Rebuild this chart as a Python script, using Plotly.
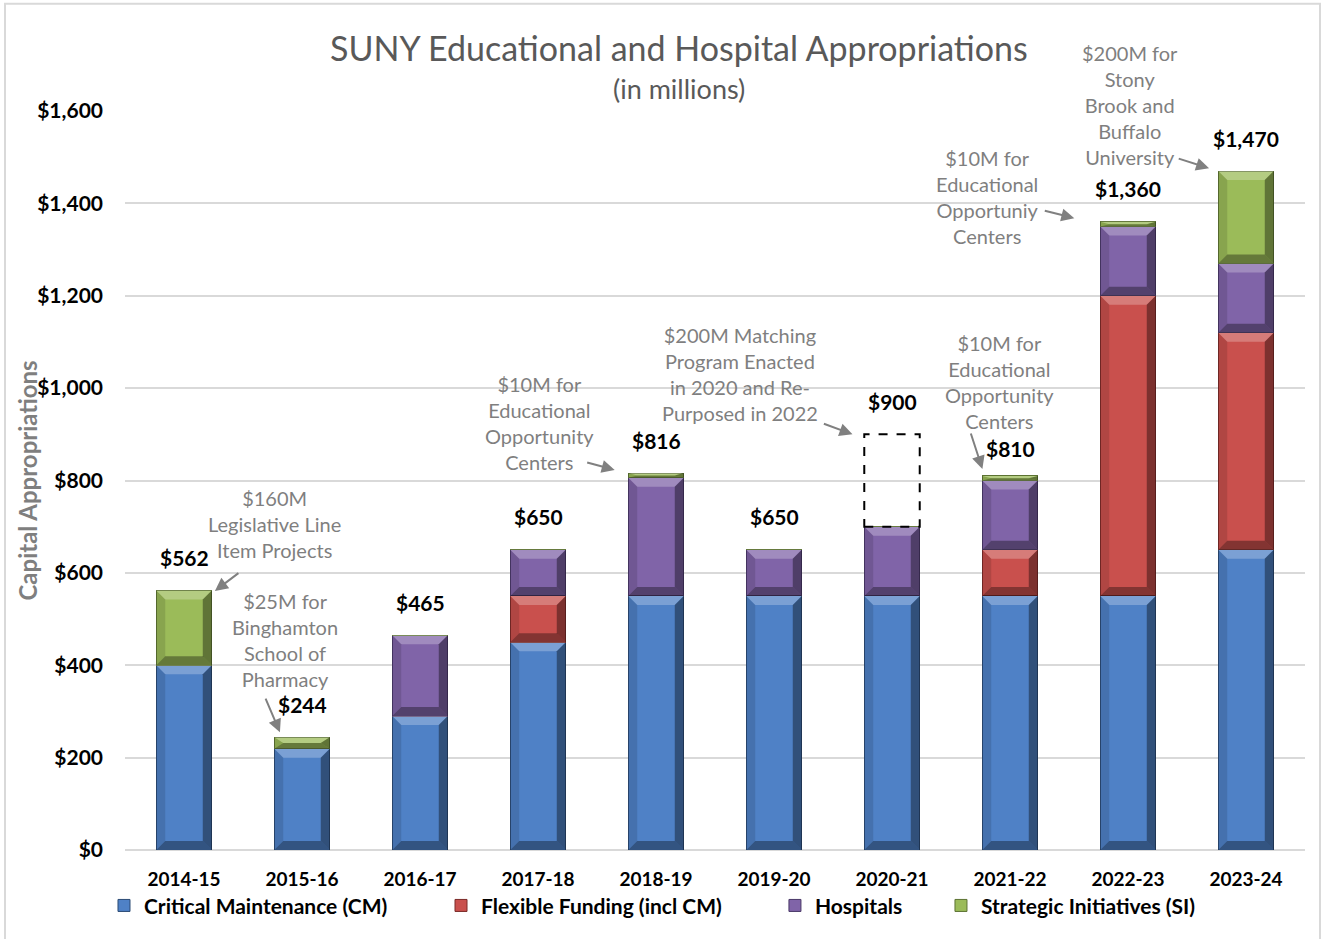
import plotly.graph_objects as go

years = ["2014-15", "2015-16", "2016-17", "2017-18", "2018-19",
         "2019-20", "2020-21", "2021-22", "2022-23", "2023-24"]
critical_maintenance = [400, 219, 290, 450, 550, 550, 550, 550, 550, 650]
flexible_funding = [0, 0, 0, 100, 0, 0, 0, 100, 650, 470]
hospitals = [0, 0, 175, 100, 256, 100, 150, 150, 150, 150]
strategic_initiatives = [162, 25, 0, 0, 10, 0, 0, 10, 10, 200]
matching_program = [0, 0, 0, 0, 0, 0, 200, 0, 0, 0]
total_labels = ["$562", "$244", "$465", "$650", "$816",
                "$650", "$900", "$810", "$1,360", "$1,470"]
label_shift = [33, 33, 33, 33, 33, 33, 33, 27, 33, 33]

series = [
    ("Critical Maintenance (CM)", critical_maintenance, "#4F81C6", "#2B4A74", "legend"),
    ("Flexible Funding (incl CM)", flexible_funding, "#C9504D", "#7A2A28", "legend2"),
    ("Hospitals", hospitals, "#8064A8", "#4A3868", "legend3"),
    ("Strategic Initiatives (SI)", strategic_initiatives, "#9BBB59", "#5C7232", "legend4"),
]

idx = list(range(len(years)))
BAR_W = 0.47
fig = go.Figure()
for name, vals, col, edge, leg in series:
    fig.add_trace(go.Bar(
        x=idx, y=vals, name=name, width=BAR_W, legend=leg,
        marker=dict(color=col, line=dict(color=edge, width=1)),
    ))

shapes = []
# bevel effect on each stacked segment
BX = 0.076   # bevel width in x units
BY = 19.5    # bevel height in y units
base = [0] * len(years)
for name, vals, col, edge, leg in series:
    for i, v in enumerate(vals):
        if v <= 0:
            continue
        x0, x1 = i - BAR_W / 2, i + BAR_W / 2
        y0, y1 = base[i], base[i] + v
        by = min(BY, v / 2)
        bx = BX
        faces = [
            ([(x0, y1), (x1, y1), (x1 - bx, y1 - by), (x0 + bx, y1 - by)], "rgba(255,255,255,0.25)"),
            ([(x0, y0), (x1, y0), (x1 - bx, y0 + by), (x0 + bx, y0 + by)], "rgba(0,0,0,0.35)"),
            ([(x0, y0), (x0, y1), (x0 + bx, y1 - by), (x0 + bx, y0 + by)], "rgba(0,0,0,0.12)"),
            ([(x1, y0), (x1, y1), (x1 - bx, y1 - by), (x1 - bx, y0 + by)], "rgba(0,0,0,0.38)"),
        ]
        for pts, fc in faces:
            path = "M " + " L ".join(f"{px},{py}" for px, py in pts) + " Z"
            shapes.append(dict(type="path", xref="x", yref="y", path=path, fillcolor=fc,
                               line=dict(width=0), layer="above"))
        base[i] = y1

totals = [a + b + c + d + e for a, b, c, d, e in zip(critical_maintenance, flexible_funding,
                                                   hospitals, strategic_initiatives, matching_program)]

annotations = []
for i, (t, lab, sh) in enumerate(zip(totals, total_labels, label_shift)):
    annotations.append(dict(x=i, y=t, text=lab, showarrow=False, yshift=sh, yanchor="middle",
                            font=dict(family="Lato", size=21, color="#000000", weight="bold")))

# dashed box for matching program
for i, m in enumerate(matching_program):
    if m:
        shapes.append(dict(type="rect", xref="x", yref="y", x0=i - BAR_W / 2, x1=i + BAR_W / 2,
                           y0=base[i], y1=base[i] + m, line=dict(color="#000000", width=2, dash="dash"),
                           fillcolor="rgba(0,0,0,0)"))

# chart border
shapes.append(dict(type="rect", xref="paper", yref="paper", x0=-0.1017, x1=1.0127,
                   y0=-0.13, y1=1.145, line=dict(color="#D9D9D9", width=2)))

gray = "#7F7F7F"
notes = [
    ("$160M<br>Legislative Line<br>Item Projects", 0.77, 706, 0, (0.474, 602), (0.262, 561)),
    ("$25M for<br>Binghamton<br>School of<br>Pharmacy", 0.855, 455, 0, (0.686, 331), (0.813, 255)),
    ("$10M for<br>Educational<br>Opportunity<br>Centers", 3.014, 924, 0, (3.404, 840), (3.65, 823)),
    ("$200M Matching<br>Program Enacted<br>in 2020 and Re-<br>Purposed in 2022", 4.708, 1030, 0, (5.41, 924), (5.665, 900)),
    ("$10M for<br>Educational<br>Opportunity<br>Centers", 6.91, 1013, 0, (6.664, 905), (6.766, 825)),
    ("$10M for<br>Educational<br>Opportuniy<br>Centers", 6.808, 1413, 0, (7.282, 1385), (7.545, 1368)),
    ("$200M for<br>Stony<br>Brook and<br>Buffalo<br>University", 8.018, 1513, 46, (8.417, 1498), (8.687, 1476)),
]
for text, tx, ty, ysh, tail, head in notes:
    annotations.append(dict(x=tx, y=ty, yshift=ysh, text=text, showarrow=False, yanchor="middle",
                            font=dict(family="Lato", size=20, color=gray)))
    annotations.append(dict(x=head[0], y=head[1], ax=tail[0], ay=tail[1], axref="x", ayref="y",
                            text="", showarrow=True, arrowhead=2, arrowsize=1.3, arrowwidth=2,
                            arrowcolor="#808080"))

annotations.append(dict(x=0.4695, y=1.0866, xref="paper", yref="paper", showarrow=False,
                        yanchor="middle", text="SUNY Educational and Hospital Appropriations",
                        font=dict(family="Lato", size=34, color="#595959")))
annotations.append(dict(x=0.4695, y=1.031, xref="paper", yref="paper", showarrow=False,
                        yanchor="middle", text="(in millions)",
                        font=dict(family="Lato", size=27, color="#595959")))
annotations.append(dict(x=-0.083, y=0.5, xref="paper", yref="paper", showarrow=False,
                        xanchor="center", yanchor="middle",
                        text="Capital Appropriations", textangle=-90,
                        font=dict(family="Lato", size=24, color="#7F7F7F", weight="bold")))

leg_font = dict(family="Lato", size=21, color="#000000", weight="bold")
def leg(x):
    return dict(orientation="h", x=x, y=-0.0755, xanchor="left", yanchor="middle",
                font=leg_font, itemwidth=30, bgcolor="rgba(0,0,0,0)")

fig.update_layout(
    barmode="stack",
    width=1322, height=939,
    margin=dict(l=125, r=17, t=111, b=89),
    plot_bgcolor="white", paper_bgcolor="white",
    showlegend=True,
    legend=leg(-0.0178), legend2=leg(0.2678), legend3=leg(0.5508), legend4=leg(0.6915),
    annotations=annotations,
    shapes=shapes,
    xaxis=dict(range=[-0.5, 9.5], tickvals=idx, ticktext=years, showgrid=False,
               showline=False, ticks="", zeroline=False,
               tickfont=dict(family="Lato", size=19, color="#000000", weight="bold"),
               ticklabelstandoff=16),
    yaxis=dict(range=[0, 1600], dtick=200, tickprefix="$", tickformat=",d",
               showgrid=True, gridcolor="#D9D9D9", gridwidth=1.5, zeroline=True,
               zerolinecolor="#D9D9D9", zerolinewidth=1.5, showline=False,
               tickfont=dict(family="Lato", size=21, color="#000000", weight="bold"),
               ticklabelstandoff=21),
)

fig.write_html("out.html", config={"displayModeBar": False},
               post_script="document.body.style.margin='0';")
